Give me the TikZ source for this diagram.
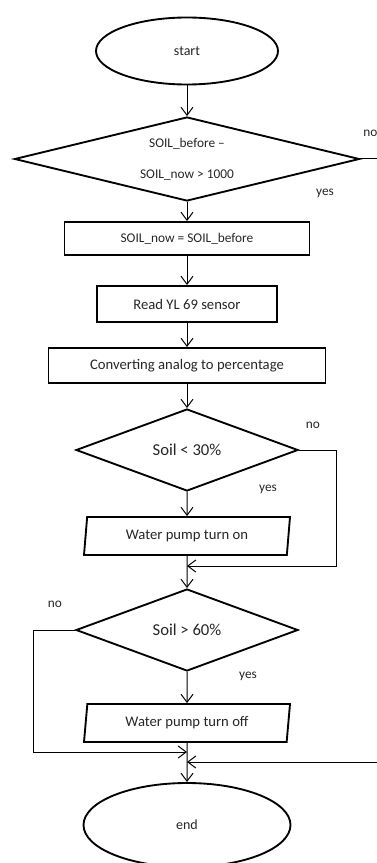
\documentclass[tikz,border=0pt]{standalone}
\usepackage{fontspec}
\setmainfont{Carlito}
\usetikzlibrary{shapes.geometric, positioning, arrows.meta}
\tikzset{
  >={Straight Barb[length=6pt,width=9pt]},
  every node/.style={inner sep=0pt, text=black!85},
  term/.style={ellipse, draw, line width=1.4pt, minimum width=136.5pt, minimum height=50.25pt, font=\fontsize{10.5}{12}\selectfont},
  decision/.style={diamond, draw, line width=1.4pt, aspect=3, minimum width=166.5pt, minimum height=61.5pt, font=\fontsize{12.5}{14}\selectfont},
  process/.style={rectangle, draw, line width=1.4pt, font=\fontsize{11}{13}\selectfont},
  io/.style={trapezium, draw, line width=1.4pt, trapezium left angle=75, trapezium right angle=105, trapezium stretches body=true, minimum width=154.5pt, minimum height=28.5pt, font=\fontsize{11}{13}\selectfont},
  lbl/.style={font=\fontsize{10}{12}\selectfont},
  flow/.style={line width=0.75pt},
}

\begin{document}
\begin{tikzpicture}[x=0.75pt, y=-0.75pt]
  \useasboundingbox (0,0) rectangle (377,863);

  % blocks
  \node[term] (start) at (187,51) {start};
  \node[decision, minimum width=258.75pt, minimum height=63pt, font=\fontsize{10}{12}\selectfont, align=center] (c1) at (187,159) {SOIL\_before --\\[11pt]SOIL\_now > 1000};
  \node[process, minimum width=183.75pt, minimum height=24.75pt, font=\fontsize{10}{12}\selectfont] (set) at (187,238.5) {SOIL\_now = SOIL\_before};
  \node[process, minimum width=135pt, minimum height=27pt] (read) at (187,304) {Read YL 69 sensor};
  \node[process, minimum width=207.75pt, minimum height=26.25pt] (conv) at (187,365.5) {Converting analog to percentage};
  \node[decision] (c2) at (187,450) {Soil < 30\%};
  \node[io] (pon) at (187,536) {Water pump turn on};
  \node[decision] (c3) at (187,630) {Soil > 60\%};
  \node[io] (poff) at (187,723) {Water pump turn off};
  \node[term, minimum width=155.25pt, minimum height=63pt] (end) at (187,825) {end};

  % joins
  \coordinate (j1) at (187,566);
  \coordinate (j2) at (187,752);
  \coordinate (j3) at (187,762);

  % flow
  \draw[flow, ->] (start) edge (c1)
    (c1) edge (set)
    (set) edge (read)
    (read) edge (conv)
    (conv) edge (c2)
    (c2) edge (pon)
    (pon) edge (c3)
    (c3) edge (poff)
    (poff) edge (end);
  \draw[flow, ->] (c1.east) -- ++(40,0) |- (j3);
  \draw[flow, ->] (c2.east) -- ++(38,0) |- (j1);
  \draw[flow, ->] (c3.west) -- ++(-42,0) |- (j2);

  % labels
  \node[lbl, anchor=west] (no1) at (363,133) {no};
  \node[lbl] (yes1) at (325,193) {yes};
  \node[lbl] (no2) at (313,425) {no};
  \node[lbl] (yes2) at (268,489) {yes};
  \node[lbl] (no3) at (55,604) {no};
  \node[lbl] (yes3) at (248,676) {yes};
\end{tikzpicture}
\end{document}
